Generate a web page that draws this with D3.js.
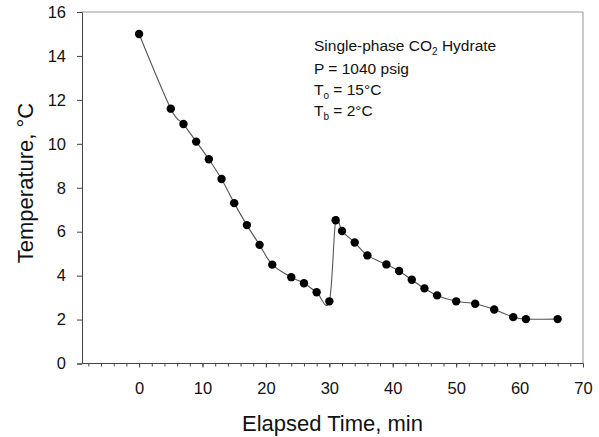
<!DOCTYPE html>
<html><head><meta charset="utf-8">
<script src="https://cdn.jsdelivr.net/npm/d3@7"></script>
<style>body{margin:0;background:#fff}svg{display:block}text{font-family:"Liberation Sans",Arial,sans-serif;fill:#111}</style>
</head><body><svg id="c" width="599" height="437"></svg>
<script>
const times = [0,5,7,9,11,13,15,17,19,21,24,26,28,30,31,32,34,36,39,41,43,45,47,50,53,56,59,61,66];
const temps = [15.0,11.6,10.9,10.1,9.3,8.4,7.3,6.3,5.4,4.5,3.93,3.65,3.24,2.83,6.52,6.03,5.51,4.92,4.51,4.21,3.81,3.42,3.1,2.83,2.72,2.46,2.11,2.02,2.02];
const xTicks = [0,10,20,30,40,50,60,70];
const yTicks = [0,2,4,6,8,10,12,14,16];
const annotation = ["Single-phase CO", "P = 1040 psig", "T", "T"];

const svg = d3.select("#c");
const L=82,R=583,T=12,B=363.5;
const x = d3.scaleLinear().domain([-9,70]).range([L,R]);
const y = d3.scaleLinear().domain([0,16]).range([B,T]);
const FF = "Liberation Sans, Arial, sans-serif";

// frame top/right
svg.append("path").attr("d",`M${L},${T}H${R}V${B}`).attr("fill","none").attr("stroke","#999").attr("stroke-width",1);

// x axis minor ticks
const xa = svg.append("g").attr("transform",`translate(0,${B})`);
xa.call(d3.axisBottom(x).tickValues(d3.range(-8,71,2)).tickSize(3).tickFormat(""));
xa.call(g=>g.select(".domain").remove());
const xm = svg.append("g").attr("transform",`translate(0,${B})`)
  .call(d3.axisBottom(x).tickValues(xTicks).tickSize(4).tickPadding(15).tickFormat(d3.format("d")));
xm.select(".domain").attr("d",`M${L},0H${R}`);
xm.selectAll("text").attr("font-size",16.5).attr("fill","#111").attr("font-family",FF);

// y axis
const ya = svg.append("g").attr("transform",`translate(${L},0)`)
  .call(d3.axisLeft(y).tickValues(yTicks).tickSize(5).tickPadding(11));
ya.selectAll("text").attr("font-size",16.5).attr("fill","#111").attr("font-family",FF);
svg.selectAll(".domain").attr("stroke","#444");
svg.selectAll(".tick line").attr("stroke","#444");

// labels
svg.append("text").attr("x",(L+R)/2).attr("y",431).attr("text-anchor","middle").attr("font-size",22).text("Elapsed Time, min");
svg.append("text").attr("transform",`translate(33,183) rotate(-90)`).attr("text-anchor","middle").attr("font-size",22).text("Temperature, °C");

// line
const pts = times.map((t,i)=>[t,temps[i]]);
svg.append("path").datum(pts)
  .attr("d",d3.line().x(d=>x(d[0])).y(d=>y(d[1])).curve(d3.curveCatmullRom.alpha(0)))
  .attr("fill","none").attr("stroke","#555").attr("stroke-width",1.1);
svg.selectAll("circle").data(pts).join("circle")
  .attr("cx",d=>x(d[0])).attr("cy",d=>y(d[1])).attr("r",4.2).attr("fill","#000");

// annotation
const ax = 314, fs = 15.5, sub = 10;
const a = svg.append("g").attr("font-size",fs);
const t1 = a.append("text").attr("x",ax).attr("y",51);
t1.append("tspan").text(annotation[0]);
t1.append("tspan").attr("font-size",sub).attr("dy",4).text("2");
t1.append("tspan").attr("dy",-4).text(" Hydrate");
a.append("text").attr("x",ax).attr("y",73.5).text(annotation[1]);
const t3 = a.append("text").attr("x",ax).attr("y",94.5);
t3.append("tspan").text(annotation[2]);
t3.append("tspan").attr("font-size",sub).attr("dy",4).text("o");
t3.append("tspan").attr("dy",-4).text(" = 15°C");
const t4 = a.append("text").attr("x",ax).attr("y",116);
t4.append("tspan").text(annotation[3]);
t4.append("tspan").attr("font-size",sub).attr("dy",4).text("b");
t4.append("tspan").attr("dy",-4).text(" = 2°C");
</script></body></html>
